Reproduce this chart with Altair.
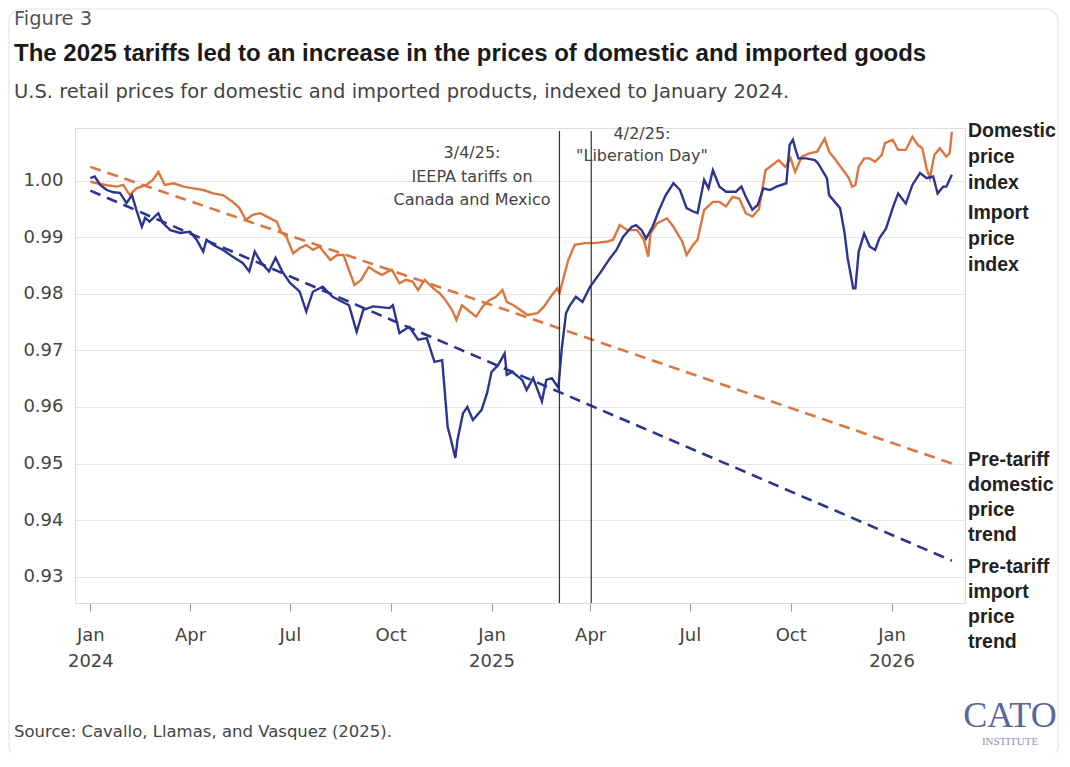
import altair as alt
import pandas as pd

# ---------------- data ----------------
dom_dates = ["2024-01-01","2024-01-07","2024-01-15","2024-01-25","2024-01-31","2024-02-06","2024-02-12","2024-02-21","2024-02-27","2024-03-03",
             "2024-03-09","2024-03-17","2024-03-26","2024-04-04","2024-04-13","2024-04-22","2024-05-01","2024-05-10","2024-05-16","2024-05-22",
             "2024-05-28","2024-06-04","2024-06-10","2024-06-19","2024-06-23","2024-06-28","2024-07-04","2024-07-10","2024-07-16","2024-07-22",
             "2024-07-28","2024-08-07","2024-08-13","2024-08-19","2024-08-25","2024-08-29","2024-09-04","2024-09-11","2024-09-17","2024-09-23",
             "2024-10-02","2024-10-09","2024-10-15","2024-10-21","2024-10-26","2024-11-01","2024-11-09","2024-11-15","2024-11-20","2024-11-26",
             "2024-11-30","2024-12-05","2024-12-12","2024-12-18","2024-12-24","2024-12-30","2025-01-05","2025-01-11","2025-01-15","2025-01-21",
             "2025-01-27","2025-02-03","2025-02-12","2025-02-18","2025-02-24","2025-03-02","2025-03-04","2025-03-12","2025-03-18","2025-03-27",
             "2025-04-05","2025-04-17","2025-04-22","2025-04-28","2025-05-05","2025-05-14","2025-05-20","2025-05-24","2025-05-26","2025-06-01",
             "2025-06-10","2025-06-16","2025-06-24","2025-06-28","2025-07-04","2025-07-08","2025-07-14","2025-07-22","2025-07-28","2025-08-03",
             "2025-08-09","2025-08-15","2025-08-21","2025-08-27","2025-09-02","2025-09-08","2025-09-14","2025-09-20","2025-09-26","2025-10-01",
             "2025-10-05","2025-10-11","2025-10-18","2025-10-25","2025-11-01","2025-11-05","2025-11-11","2025-11-19","2025-11-23","2025-11-26",
             "2025-11-29","2025-12-02","2025-12-07","2025-12-12","2025-12-17","2025-12-23","2025-12-26","2026-01-02","2026-01-07","2026-01-14",
             "2026-01-20","2026-01-25","2026-01-29","2026-02-02","2026-02-05","2026-02-09","2026-02-14","2026-02-20","2026-02-23","2026-02-25"]
dom_values = [0.9999,0.9996,0.9993,0.9990,0.9993,0.9975,0.9987,0.9993,1.0002,1.0016,
              0.9993,0.9996,0.9990,0.9987,0.9984,0.9978,0.9975,0.9963,0.9952,0.9931,
              0.9940,0.9943,0.9937,0.9928,0.9910,0.9901,0.9872,0.9881,0.9887,0.9878,
              0.9884,0.9860,0.9869,0.9869,0.9837,0.9816,0.9825,0.9848,0.9840,0.9834,
              0.9843,0.9819,0.9825,0.9822,0.9807,0.9825,0.9810,0.9801,0.9789,0.9772,
              0.9754,0.9780,0.9769,0.9760,0.9778,0.9789,0.9795,0.9807,0.9786,0.9780,
              0.9772,0.9763,0.9766,0.9778,0.9795,0.9810,0.9801,0.9860,0.9887,0.9890,
              0.9890,0.9893,0.9896,0.9922,0.9913,0.9913,0.9896,0.9866,0.9907,0.9925,
              0.9934,0.9919,0.9893,0.9869,0.9887,0.9896,0.9949,0.9963,0.9963,0.9955,
              0.9972,0.9969,0.9943,0.9937,0.9950,1.0019,1.0028,1.0037,1.0025,1.0040,
              1.0016,1.0043,1.0049,1.0052,1.0075,1.0052,1.0037,1.0016,1.0005,0.9990,
              0.9993,1.0025,1.0040,1.0040,1.0034,1.0046,1.0067,1.0073,1.0055,1.0055,
              1.0078,1.0064,1.0058,1.0022,1.0005,1.0046,1.0058,1.0043,1.0049,1.0087]

imp_dates = ["2024-01-01","2024-01-05","2024-01-10","2024-01-16","2024-01-22","2024-01-28","2024-02-03","2024-02-08","2024-02-12","2024-02-17",
             "2024-02-20","2024-02-24","2024-03-03","2024-03-07","2024-03-14","2024-03-23","2024-04-01","2024-04-07","2024-04-13","2024-04-16",
             "2024-04-22","2024-05-01","2024-05-10","2024-05-19","2024-05-25","2024-05-30","2024-06-05","2024-06-12","2024-06-18","2024-06-24",
             "2024-07-01","2024-07-10","2024-07-16","2024-07-22","2024-07-31","2024-08-09","2024-08-15","2024-08-24","2024-08-31","2024-09-06",
             "2024-09-15","2024-09-30","2024-10-03","2024-10-09","2024-10-18","2024-10-26","2024-11-03","2024-11-10","2024-11-17","2024-11-22",
             "2024-11-25","2024-11-29","2024-12-01","2024-12-06","2024-12-10","2024-12-15","2024-12-23","2024-12-28","2025-01-01","2025-01-07",
             "2025-01-13","2025-01-15","2025-01-20","2025-01-29","2025-02-02","2025-02-08","2025-02-16","2025-02-20","2025-02-25","2025-03-03",
             "2025-03-06","2025-03-10","2025-03-13","2025-03-19","2025-03-25","2025-04-01","2025-04-10","2025-04-19","2025-04-25","2025-05-01",
             "2025-05-09","2025-05-13","2025-05-18","2025-05-22","2025-05-28","2025-06-03","2025-06-09","2025-06-16","2025-06-22","2025-06-28",
             "2025-07-04","2025-07-08","2025-07-14","2025-07-18","2025-07-22","2025-07-28","2025-08-03","2025-08-12","2025-08-17","2025-08-21",
             "2025-08-27","2025-09-01","2025-09-06","2025-09-12","2025-09-18","2025-09-27","2025-09-30","2025-10-03","2025-10-05","2025-10-08",
             "2025-10-15","2025-10-23","2025-10-26","2025-11-03","2025-11-05","2025-11-15","2025-11-19","2025-11-22","2025-11-27","2025-11-29",
             "2025-12-02","2025-12-07","2025-12-12","2025-12-17","2025-12-21","2025-12-27","2026-01-02","2026-01-07","2026-01-14","2026-01-20",
             "2026-01-27","2026-02-02","2026-02-08","2026-02-12","2026-02-17","2026-02-20","2026-02-25"]
imp_values = [1.0005,1.0008,0.9993,0.9984,0.9980,0.9979,0.9961,0.9975,0.9949,0.9919,
              0.9935,0.9928,0.9943,0.9926,0.9913,0.9908,0.9910,0.9896,0.9875,0.9896,
              0.9887,0.9878,0.9866,0.9855,0.9840,0.9875,0.9855,0.9840,0.9864,0.9840,
              0.9820,0.9804,0.9769,0.9804,0.9813,0.9795,0.9789,0.9780,0.9733,0.9772,
              0.9778,0.9775,0.9780,0.9731,0.9742,0.9719,0.9722,0.9680,0.9683,0.9565,
              0.9542,0.9510,0.9542,0.9589,0.9600,0.9577,0.9595,0.9625,0.9662,0.9674,
              0.9695,0.9657,0.9662,0.9648,0.9630,0.9651,0.9610,0.9648,0.9651,0.9634,
              0.9701,0.9766,0.9778,0.9795,0.9786,0.9813,0.9837,0.9863,0.9878,0.9901,
              0.9919,0.9922,0.9913,0.9898,0.9919,0.9949,0.9975,0.9996,0.9984,0.9952,
              0.9946,0.9943,1.0002,0.9987,1.0019,0.9990,0.9981,0.9981,0.9990,0.9972,
              0.9949,0.9958,0.9987,0.9984,0.9990,0.9996,1.0064,1.0073,1.0058,1.0040,
              1.0040,1.0037,1.0031,1.0005,0.9975,0.9952,0.9910,0.9863,0.9810,0.9810,
              0.9875,0.9907,0.9884,0.9878,0.9899,0.9916,0.9952,0.9978,0.9960,0.9993,
              1.0014,1.0005,1.0008,0.9978,0.9990,0.9990,1.0011]

trend_dates = ["2024-01-01", "2026-02-25"]
dom_trend = [1.0025, 0.9500]
imp_trend = [0.9983, 0.9328]

event_dates = ["2025-03-04", "2025-04-02"]
y_ticks = [0.93, 0.94, 0.95, 0.96, 0.97, 0.98, 0.99, 1.00]
x_tick_years = [2024, 2024, 2024, 2024, 2025, 2025, 2025, 2025, 2026]
x_tick_months = [1, 4, 7, 10, 1, 4, 7, 10, 1]

# ---------------- styling ----------------
W, H = 890, 475
ORANGE = "#d9773f"
NAVY = "#2b3590"
TXT = "#444444"
BODY = "DejaVu Sans"
BOLD = "Liberation Sans"

xscale = alt.Scale(type="utc", nice=False,
                   domain=[alt.DateTime(year=2023, month=12, date=18, utc=True),
                           alt.DateTime(year=2026, month=3, date=9, utc=True)])
yscale = alt.Scale(domain=[0.92531, 1.00938], zero=False, nice=False)

x_vals = [alt.DateTime(year=y, month=m, date=1, utc=True) for y, m in zip(x_tick_years, x_tick_months)]
label_expr = ("utcmonth(datum.value) == 0 ? [utcFormat(datum.value, '%b'), utcFormat(datum.value, '%Y')]"
              " : utcFormat(datum.value, '%b')")

xaxis = alt.Axis(values=x_vals, labelExpr=label_expr, domain=False, grid=False, ticks=True,
                 tickSize=8, tickColor="#999999", tickWidth=1, labelFont=BODY, labelFontSize=18,
                 labelColor=TXT, labelLineHeight=26, labelPadding=15, labelFlush=False,
                 labelOverlap=False, title=None)
yaxis = alt.Axis(values=y_ticks, format=".2f", domain=False, ticks=False, grid=True,
                 gridColor="#e6e6e6", gridWidth=1, labelFont=BODY, labelFontSize=18,
                 labelColor=TXT, labelPadding=12, title=None)

dom_df = pd.DataFrame({"date": dom_dates, "value": dom_values})
imp_df = pd.DataFrame({"date": imp_dates, "value": imp_values})
dom_tr_df = pd.DataFrame({"date": trend_dates, "value": dom_trend})
imp_tr_df = pd.DataFrame({"date": trend_dates, "value": imp_trend})
ev_df = pd.DataFrame({"date": event_dates})

X = alt.X("date:T", scale=xscale, axis=xaxis)
Y = alt.Y("value:Q", scale=yscale, axis=yaxis)

base_axes = alt.Chart(dom_df).mark_line(opacity=0).encode(x=X, y=Y)

dom_tr = alt.Chart(dom_tr_df).mark_line(color=ORANGE, strokeWidth=2.6, strokeDash=[11, 7]).encode(
    x=alt.X("date:T", scale=xscale), y=alt.Y("value:Q", scale=yscale))
imp_tr = alt.Chart(imp_tr_df).mark_line(color=NAVY, strokeWidth=2.6, strokeDash=[11, 7]).encode(
    x=alt.X("date:T", scale=xscale), y=alt.Y("value:Q", scale=yscale))
dom_line = alt.Chart(dom_df).mark_line(color=ORANGE, strokeWidth=2.4).encode(
    x=alt.X("date:T", scale=xscale), y=alt.Y("value:Q", scale=yscale))
imp_line = alt.Chart(imp_df).mark_line(color=NAVY, strokeWidth=2.4).encode(
    x=alt.X("date:T", scale=xscale), y=alt.Y("value:Q", scale=yscale))
rules = alt.Chart(ev_df).mark_rule(color="#333333", strokeWidth=1.2).encode(
    x=alt.X("date:T", scale=xscale), y=alt.value(3), y2=alt.value(H))

one = pd.DataFrame({"k": [0]})


def txt(text, x, y, size, font=BODY, weight="normal", color=TXT, align="left", lh=None):
    kw = dict(font=font, fontSize=size, fontWeight=weight, color=color, align=align, baseline="middle")
    if lh is not None:
        kw["lineHeight"] = lh
    return alt.Chart(one).mark_text(**kw).encode(x=alt.value(x), y=alt.value(y), text=alt.value(text))


texts = [
    txt("Figure 3", -61, -109, 19.5, color="#555555"),
    txt("The 2025 tariffs led to an increase in the prices of domestic and imported goods", -61, -74, 24,
        font=BOLD, weight="bold", color="#1a1a1a"),
    txt("U.S. retail prices for domestic and imported products, indexed to January 2024.", -61, -36, 19.5,
        color="#444444"),
    txt(["3/4/25:", "IEEPA tariffs on", "Canada and Mexico"], 397, 25, 16, align="center", lh=23.5),
    txt(["4/2/25:", "\"Liberation Day\""], 567, 6, 16, align="center", lh=22),
    txt(["Domestic", "price", "index"], 893, 3, 19.5, font=BOLD, weight="bold", color="#222222", lh=26),
    txt(["Import", "price", "index"], 893, 85, 19.5, font=BOLD, weight="bold", color="#222222", lh=26),
    txt(["Pre-tariff", "domestic", "price", "trend"], 893, 332, 19.5, font=BOLD, weight="bold", color="#222222", lh=25),
    txt(["Pre-tariff", "import", "price", "trend"], 893, 439, 19.5, font=BOLD, weight="bold", color="#222222", lh=25),
    txt("Source: Cavallo, Llamas, and Vasquez (2025).", -61, 604, 16.5, color="#444444"),
    txt("CATO", 935, 588, 36, font="Liberation Serif", color="#5b6699", align="center"),
    txt("INSTITUTE", 935, 614, 11, font="Liberation Serif", color="#8a92b8", align="center"),
]

border = alt.Chart(one).mark_rect(fill="#ffffff", fillOpacity=0, stroke="#e4e4e4", strokeWidth=1.2,
                                  cornerRadius=12).encode(
    x=alt.value(-66), x2=alt.value(983), y=alt.value(-119), y2=alt.value(630))

chart = alt.layer(border, base_axes, dom_tr, imp_tr, dom_line, imp_line, rules, *texts).properties(
    width=W, height=H,
    autosize=alt.AutoSizeParams(type="none"),
    padding={"left": 67, "top": 120, "right": 95, "bottom": 150},
).configure_view(strokeWidth=0).configure(background="white")

chart.save("out.html", embed_options={"renderer": "svg", "actions": False})
